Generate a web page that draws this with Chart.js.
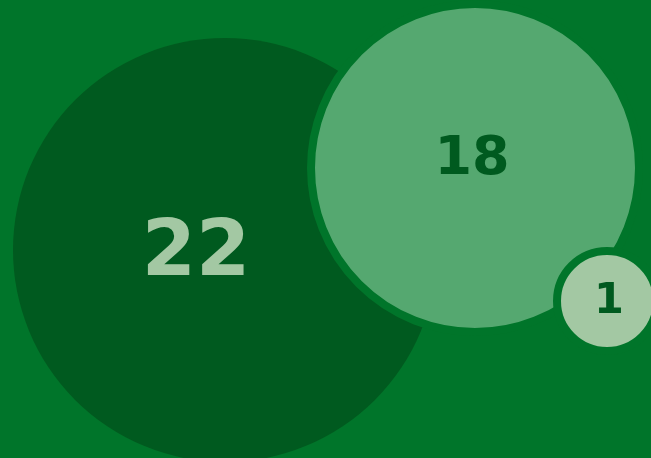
<!DOCTYPE html>
<html>
<head>
<meta charset="utf-8">
<script src="https://cdn.jsdelivr.net/npm/chart.js@4"></script>
<style>
  html, body { margin: 0; padding: 0; background: #00752a; overflow: hidden; }
  #wrap { width: 651px; height: 458px; }
</style>
</head>
<body>
<div id="wrap"><canvas id="c" width="651" height="458"></canvas></div>
<script>
// Data
const categories = ["A", "B", "C"];
const values = [22, 18, 1];
const bubbleX = [225, 475, 607];
const bubbleY = [250, 168, 301];
const bubbleR = [212, 164, 50];

const fillColors = ["#005a1f", "#55a870", "#a3c8a3"];
const borderColors = ["#005a1f", "#00752a", "#00752a"];
const borderWidths = [0, 8, 8];
const labelColors = ["#a3c8a3", "#005a1f", "#005a1f"];
const labelSizes = [78, 54, 43];
// label offsets from bubble centre: [dx of text centre, dy of baseline]
const labelOffsets = [[-29, 25], [-3, 6], [2, 12]];

const datasets = categories.map((c, i) => ({
  label: c,
  data: [{ x: bubbleX[i], y: bubbleY[i], r: bubbleR[i] }],
  backgroundColor: fillColors[i],
  borderColor: borderColors[i],
  borderWidth: borderWidths[i],
  hoverBorderWidth: borderWidths[i],
  hoverRadius: 0,
  order: categories.length - i,
  clip: false
}));

const labelPlugin = {
  id: 'bubbleLabels',
  afterDatasetsDraw(chart) {
    const ctx = chart.ctx;
    chart.data.datasets.forEach((ds, i) => {
      const el = chart.getDatasetMeta(i).data[0];
      if (!el) return;
      ctx.save();
      ctx.font = 'bold ' + labelSizes[i] + 'px "DejaVu Sans"';
      ctx.fillStyle = labelColors[i];
      ctx.textAlign = 'center';
      ctx.textBaseline = 'alphabetic';
      ctx.fillText(String(values[i]), el.x + labelOffsets[i][0], el.y + labelOffsets[i][1]);
      ctx.restore();
    });
  }
};

new Chart(document.getElementById('c'), {
  type: 'bubble',
  data: { datasets },
  options: {
    responsive: false,
    animation: false,
    events: [],
    layout: { padding: 0, autoPadding: false },
    plugins: { legend: { display: false }, tooltip: { enabled: false } },
    scales: {
      x: { type: 'linear', min: 0, max: 651, display: false },
      y: { type: 'linear', min: 0, max: 458, reverse: true, display: false }
    }
  },
  plugins: [labelPlugin]
});
</script>
</body>
</html>
